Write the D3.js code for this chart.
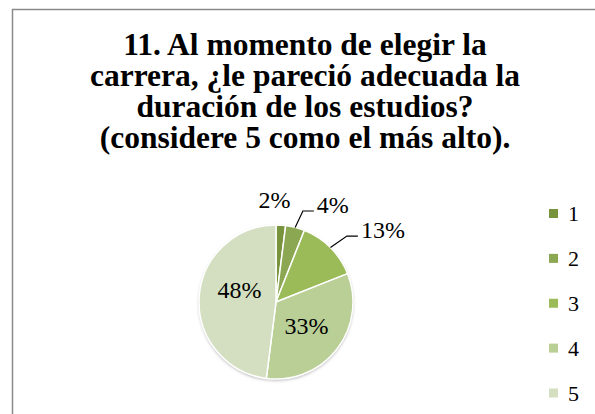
<!DOCTYPE html>
<html>
<head>
<meta charset="utf-8">
<script src="https://cdn.jsdelivr.net/npm/d3@7"></script>
<style>
  html, body { margin: 0; padding: 0; background: #fff; }
  svg { display: block; }
  svg text { font-family: "Liberation Serif", "Times New Roman", Times, "DejaVu Serif", serif; }
</style>
</head>
<body>
<svg id="chart" width="595" height="414"></svg>
<script>
// chart data
const categories = ["1", "2", "3", "4", "5"];
const values = [2, 4, 13, 33, 48];
const colors = ["#77933c", "#8ca752", "#9bbb59", "#b9cf96", "#d3dfc0"];
const titleLines = [
  "11. Al momento de elegir la",
  "carrera, ¿le pareció adecuada la",
  "duración de los estudios?",
  "(considere 5 como el más alto)."
];

const svg = d3.select("#chart");
const width = 595;
const height = 414;

// outer frame (right/bottom edges run off the page)
svg.append("rect")
  .attr("x", 12.5)
  .attr("y", 9.5)
  .attr("width", width)
  .attr("height", height)
  .attr("fill", "#fff")
  .attr("stroke", "#8a8a8a")
  .attr("stroke-width", 1.5);

// title
svg.append("text")
  .attr("x", 305)
  .attr("y", 55)
  .attr("text-anchor", "middle")
  .style("font-weight", "bold")
  .style("font-size", "31.5px")
  .style("fill", "#000")
  .selectAll("tspan")
  .data(titleLines)
  .join("tspan")
  .attr("x", 305)
  .attr("dy", (d, i) => (i === 0 ? 0 : 31))
  .text((d) => d);

// pie
const cx = 276, cy = 302, r = 77;
const total = d3.sum(values);
const pie = d3.pie().sort(null).value((d) => d);
const arcs = pie(values);
const arc = d3.arc().innerRadius(0).outerRadius(r);

const defs = svg.append("defs");
const shadow = defs.append("filter").attr("id", "shadow")
  .attr("x", "-20%").attr("y", "-20%").attr("width", "140%").attr("height", "140%");
shadow.append("feDropShadow")
  .attr("dx", 0).attr("dy", 1.5).attr("stdDeviation", 1.5)
  .attr("flood-color", "#000").attr("flood-opacity", 0.3);

const g = svg.append("g").attr("transform", `translate(${cx},${cy})`);

g.append("circle")
  .attr("r", r)
  .attr("fill", "#fff")
  .attr("filter", "url(#shadow)");

g.selectAll(".slice")
  .data(arcs)
  .join("path")
  .attr("class", "slice")
  .attr("d", arc)
  .attr("fill", (d, i) => colors[i])
  .attr("stroke", "#fff")
  .attr("stroke-width", 1.5)
  .attr("stroke-linejoin", "round");

const pct = (v) => Math.round((v / total) * 100) + "%";
const midAngle = (d) => (d.startAngle + d.endAngle) / 2;
const polar = (a, rad) => [Math.sin(a) * rad, -Math.cos(a) * rad];

// labels inside the big slices
const innerArc = d3.arc().innerRadius(r * 0.5).outerRadius(r * 0.5);
const innerNudge = { 3: [0, 0], 4: [2, -10] };
arcs.forEach((d, i) => {
  if (!(i in innerNudge)) return;
  const [x, y] = innerArc.centroid(d);
  g.append("text")
    .attr("x", x + innerNudge[i][0])
    .attr("y", y + innerNudge[i][1])
    .attr("text-anchor", "middle")
    .attr("dominant-baseline", "central")
    .style("font-size", "24px")
    .style("fill", "#000")
    .text(pct(d.data));
});

// small slice outside without leader
{
  const d = arcs[0];
  const [x, y] = polar(midAngle(d), r + 25);
  g.append("text")
    .attr("x", x - 8)
    .attr("y", y)
    .attr("text-anchor", "middle")
    .attr("dominant-baseline", "central")
    .style("font-size", "24px")
    .text(pct(d.data));
}

// slices with leader lines
[1, 2].forEach((i) => {
  const d = arcs[i];
  const a = midAngle(d);
  const p0 = polar(a, r);
  const e = polar(a, r + 19);
  const p1 = [e[0] + 3, e[1] + 2];
  const p2 = [p1[0] + 11, p1[1]];
  g.append("polyline")
    .attr("points", [p0, p1, p2].map((p) => p.join(",")).join(" "))
    .attr("fill", "none")
    .attr("stroke", "#000")
    .attr("stroke-width", 1.2);
  g.append("text")
    .attr("x", p2[0] + 3)
    .attr("y", p2[1] + 2)
    .attr("text-anchor", "start")
    .style("font-size", "24px")
    .text(pct(d.data));
});

// legend
const legendY = d3.scalePoint()
  .domain(categories)
  .range([213.5, 393]);

const legend = svg.append("g");
const items = legend.selectAll(".item")
  .data(categories)
  .join("g")
  .attr("class", "item")
  .attr("transform", (d) => `translate(549,${legendY(d)})`);

items.append("rect")
  .attr("x", 0)
  .attr("y", -4.5)
  .attr("width", 9)
  .attr("height", 9)
  .attr("fill", (d, i) => colors[i]);

items.append("text")
  .attr("x", 19)
  .attr("y", 7.5)
  .style("font-size", "22px")
  .style("fill", "#000")
  .text((d) => d);
</script>
</body>
</html>
